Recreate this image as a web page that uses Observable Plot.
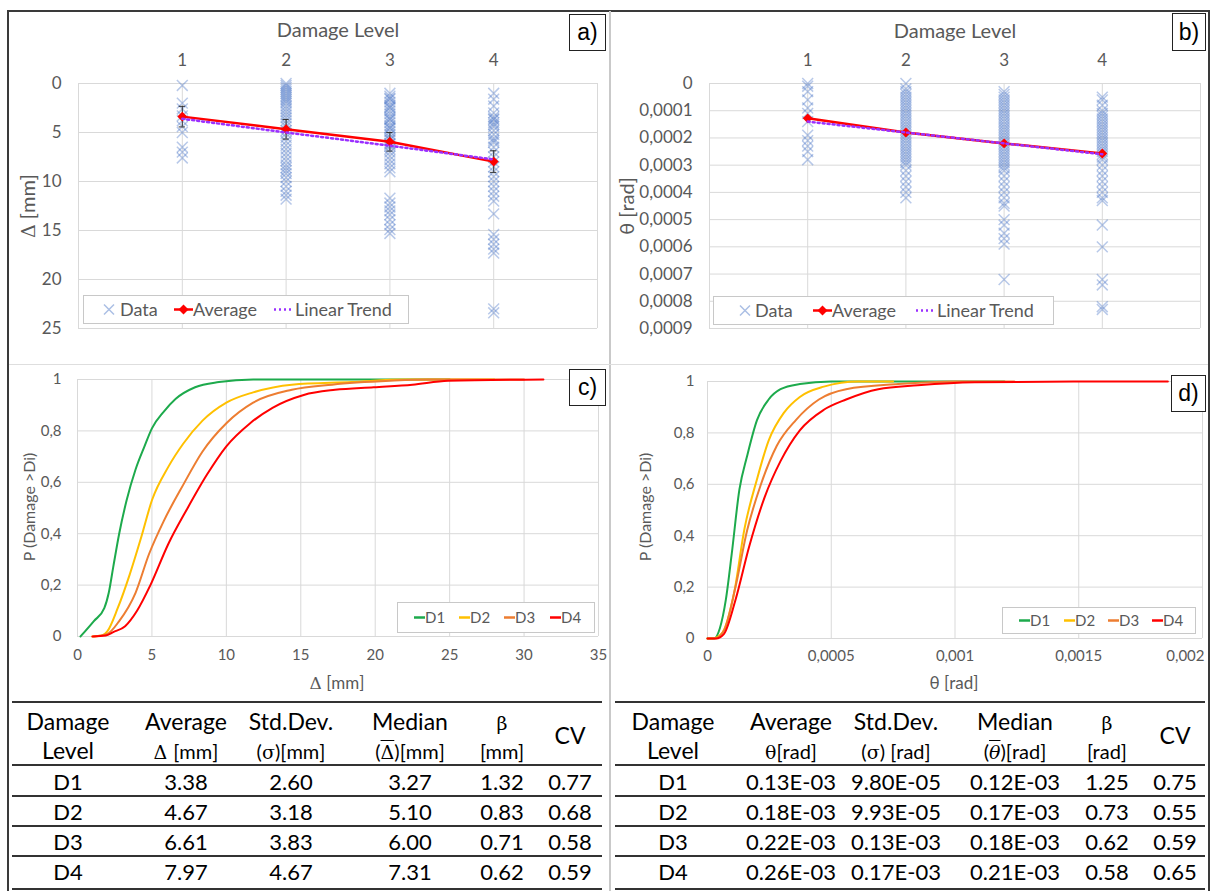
<!DOCTYPE html>
<html><head><meta charset="utf-8">
<script src="https://cdn.jsdelivr.net/npm/d3@7"></script>
<script src="https://cdn.jsdelivr.net/npm/@observablehq/plot@0.6"></script>
<style>
body{margin:0;background:#fff;}
#root{position:relative;width:1215px;height:891px;overflow:hidden;font-family:Lato,sans-serif;background:#fff;}
.abs{position:absolute;}
.lbl{position:absolute;box-sizing:border-box;border:1px solid #222;background:#fff;font-family:"Liberation Sans",Arial,sans-serif;font-size:23px;display:flex;align-items:center;justify-content:center;color:#000;}
.title{position:absolute;color:#595959;white-space:nowrap;transform:translate(-50%,-50%);}
.vtitle{position:absolute;color:#595959;white-space:nowrap;transform:translate(-50%,-50%) rotate(-90deg);}
.cell{position:absolute;transform:translate(-50%,-50%);white-space:nowrap;color:#000;font-size:21px;font-family:Lato,sans-serif;}
.hd{font-size:23px;}
.hl{position:absolute;background:#333;}
.leg{position:absolute;box-sizing:border-box;border:1px solid #c8c8c8;background:#fff;}
</style></head><body><div id="root"></div>
<script>
// ---------- DATA ----------
const levels = [1, 2, 3, 4];
const deltaTicks = [0, 5, 10, 15, 20, 25];
const thetaTicks = [0, 0.0001, 0.0002, 0.0003, 0.0004, 0.0005, 0.0006, 0.0007, 0.0008, 0.0009];

const deltaL1 = [0.2, 2.0, 2.6, 3.3, 3.8, 4.4, 5.0, 6.5, 7.0, 7.6];
const deltaL2 = [0.0, 0.2, 0.4, 0.6, 0.8, 1.0, 1.2, 1.4, 1.6, 1.8, 2.0, 2.3, 2.6, 2.9, 3.2, 3.5, 3.8, 4.1, 4.4, 4.8, 5.1, 5.5, 5.9, 6.3, 6.7, 7.1, 7.5, 7.9, 8.3, 8.6, 8.9, 9.2, 9.6, 10.0, 10.5, 11.0, 11.4, 11.8];
const deltaL3 = [1.0, 1.3, 1.5, 1.6, 1.9, 2.2, 2.4, 2.5, 2.8, 3.1, 3.4, 3.6, 3.7, 4.0, 4.3, 4.5, 4.6, 4.9, 5.2, 5.5, 5.7, 5.8, 6.1, 6.2, 6.4, 6.7, 7.0, 7.4, 7.8, 8.2, 8.6, 9.0, 11.7, 12.2, 12.6, 13.0, 13.4, 13.9, 14.4, 14.9, 15.3];
const deltaL4 = [1.0, 1.6, 2.3, 3.0, 3.4, 3.6, 3.7, 4.0, 4.2, 4.4, 4.8, 5.2, 5.6, 5.8, 6.0, 6.5, 7.0, 7.5, 8.0, 8.5, 9.0, 9.5, 10.0, 10.5, 11.0, 11.5, 12.0, 13.3, 15.4, 15.9, 16.4, 16.9, 17.3, 23.0, 23.4];
const deltaAvg = [3.38, 4.67, 5.95, 7.97];
const deltaErr = [1.05, 1.0, 0.95, 1.1];
const deltaTrend = [3.6, 5.0, 6.35, 7.75];

const thetaL1 = [0.0, 0.00001, 0.00003, 0.00006, 0.00009, 0.00011, 0.00014, 0.00019, 0.00021, 0.00023, 0.00025, 0.00028];
const thetaL2 = [0.0, 0.00002, 0.00003, 0.00004, 0.00005, 0.00006, 0.00007, 0.00008, 0.00009, 0.0001, 0.00011, 0.00012, 0.00013, 0.00014, 0.00015, 0.00016, 0.00017, 0.00018, 0.00019, 0.0002, 0.00021, 0.00022, 0.00023, 0.00024, 0.00025, 0.00026, 0.00027, 0.00028, 0.00029, 0.0003, 0.00032, 0.00034, 0.00036, 0.00038, 0.0004, 0.00042];
const thetaL3 = [0.00003, 0.00004, 0.00005, 0.00006, 0.00007, 0.00008, 0.00009, 0.0001, 0.00011, 0.00012, 0.00013, 0.00014, 0.00015, 0.00016, 0.00017, 0.00018, 0.00019, 0.0002, 0.00021, 0.00022, 0.00023, 0.00024, 0.00025, 0.00026, 0.00027, 0.00028, 0.00029, 0.0003, 0.00031, 0.00032, 0.00034, 0.00036, 0.00038, 0.0004, 0.00042, 0.00044, 0.00045, 0.0005, 0.00052, 0.00055, 0.00057, 0.00059, 0.00072];
const thetaL4 = [0.00005, 0.00006, 0.00008, 0.0001, 0.00011, 0.00012, 0.00013, 0.00014, 0.00015, 0.00016, 0.00017, 0.00018, 0.00019, 0.0002, 0.00021, 0.00022, 0.00023, 0.00024, 0.00025, 0.00026, 0.00027, 0.00028, 0.0003, 0.00032, 0.00034, 0.00036, 0.00038, 0.0004, 0.00042, 0.00043, 0.00052, 0.0006, 0.00072, 0.00074, 0.00082, 0.00083];
const thetaAvg = [0.000128, 0.00018, 0.00022, 0.000257];
const thetaTrend = [0.00014, 0.00018, 0.00022, 0.00026];

const seriesNames = ["D1", "D2", "D3", "D4"];
const seriesColors = ["#1DAA4C", "#FFC000", "#ED7D31", "#FF0000"];
const probTicks = [0, 0.2, 0.4, 0.6, 0.8, 1];
const deltaCdfTicks = [0, 5, 10, 15, 20, 25, 30, 35];
const thetaCdfTicks = [0, 0.0005, 0.001, 0.0015, 0.002];

const cD1x = [0.2, 1.1, 1.8, 2.1, 2.4, 2.8, 3.3, 3.9, 4.5, 5.0, 5.8, 6.6, 7.9, 9.5, 11.8, 25];
const cD1p = [0, 0.06, 0.11, 0.17, 0.27, 0.40, 0.53, 0.65, 0.74, 0.81, 0.875, 0.925, 0.97, 0.99, 1, 1];
const cD2x = [1.0, 1.65, 2.0, 2.7, 3.5, 4.3, 5.0, 6.1, 7.1, 8.4, 10, 11.8, 14.4, 18.4, 22, 28];
const cD2p = [0, 0.004, 0.02, 0.11, 0.24, 0.39, 0.53, 0.66, 0.75, 0.84, 0.91, 0.95, 0.98, 0.99, 1, 1];
const cD3x = [1.1, 2.0, 2.8, 3.9, 4.8, 5.8, 7.1, 8.4, 10, 11.8, 14.4, 17.1, 21, 23.6, 30];
const cD3p = [0, 0.01, 0.06, 0.17, 0.32, 0.45, 0.59, 0.72, 0.83, 0.91, 0.96, 0.98, 0.995, 1, 1];
const cD4x = [1.0, 1.9, 2.4, 3.2, 4.0, 4.9, 6.1, 7.4, 8.7, 10, 11.6, 13.1, 15.2, 17.3, 19.9, 22.5, 24.9, 31.3];
const cD4p = [0, 0.004, 0.017, 0.04, 0.10, 0.20, 0.36, 0.50, 0.63, 0.74, 0.83, 0.89, 0.94, 0.96, 0.97, 0.98, 0.995, 1];

const dD1x = [0, 0.000027, 0.00005, 0.000074, 0.000098, 0.000129, 0.00016, 0.0002, 0.000247, 0.000295, 0.000373, 0.0005, 0.0012];
const dD1p = [0, 0, 0.04, 0.15, 0.33, 0.58, 0.71, 0.85, 0.93, 0.97, 0.99, 1, 1];
const dD2x = [0, 0.000019, 0.000058, 0.000106, 0.00015, 0.0002, 0.000247, 0.00031, 0.000373, 0.00047, 0.00061, 0.00075];
const dD2p = [0, 0, 0.02, 0.17, 0.43, 0.62, 0.77, 0.88, 0.94, 0.98, 1, 1];
const dD3x = [0, 0.00003, 0.000066, 0.000113, 0.00016, 0.000216, 0.00028, 0.000357, 0.00045, 0.00056, 0.00077, 0.001, 0.00124];
const dD3p = [0, 0, 0.03, 0.2, 0.42, 0.6, 0.75, 0.85, 0.93, 0.97, 0.99, 1, 1];
const dD4x = [0, 0.000035, 0.000066, 0.000113, 0.000169, 0.000231, 0.000295, 0.000373, 0.00047, 0.00056, 0.00069, 0.00085, 0.00108, 0.00148, 0.00186];
const dD4p = [0, 0, 0.017, 0.15, 0.36, 0.55, 0.69, 0.81, 0.89, 0.93, 0.97, 0.985, 0.997, 1, 1];

const tableRowsLeft = [
  ["D1", "3.38", "2.60", "3.27", "1.32", "0.77"],
  ["D2", "4.67", "3.18", "5.10", "0.83", "0.68"],
  ["D3", "6.61", "3.83", "6.00", "0.71", "0.58"],
  ["D4", "7.97", "4.67", "7.31", "0.62", "0.59"]
];
const tableRowsRight = [
  ["D1", "0.13E-03", "9.80E-05", "0.12E-03", "1.25", "0.75"],
  ["D2", "0.18E-03", "9.93E-05", "0.17E-03", "0.73", "0.55"],
  ["D3", "0.22E-03", "0.13E-03", "0.18E-03", "0.62", "0.59"],
  ["D4", "0.26E-03", "0.17E-03", "0.21E-03", "0.58", "0.65"]
];

// ---------- helpers ----------
const root = document.getElementById("root");
function add(html){ root.insertAdjacentHTML("beforeend", html); }
function place(el, left, top){ el.style.position="absolute"; el.style.left=left+"px"; el.style.top=top+"px"; root.appendChild(el); }
const scatterRows = lists => lists.flatMap((vals,i)=>vals.map(v=>({level: levels[i], v})));
const comma = d => d === 0 ? "0" : String(d).replace(".", ",");
const baseStyle = {fontFamily:"Lato, sans-serif", color:"#595959", background:"transparent", overflow:"visible"};
const grid = "#D9D9D9";

// frames
add(`<div class="abs" style="left:7px;top:10px;width:1203px;height:890px;box-sizing:border-box;border:2px solid #3a3a3a;"></div>`);
add(`<div class="abs" style="left:609px;top:11px;width:2px;height:880px;background:#c9c9c9;"></div>`);
add(`<div class="abs" style="left:9px;top:364px;width:1199px;height:1px;background:#dedede;"></div>`);

// ---------- Panel a ----------
const avgA = levels.map((l,i)=>({level:l, v:deltaAvg[i], e:deltaErr[i], t:deltaTrend[i]}));
const chartA = Plot.plot({
  width: 603, height: 354, marginLeft: 71, marginRight: 13, marginTop: 73, marginBottom: 36,
  style: {...baseStyle, fontSize: "17px"},
  x: {domain: [0, 5], axis: null},
  y: {domain: [0, 25], reverse: true, axis: null},
  marks: [
    Plot.gridY(deltaTicks, {stroke: grid, strokeOpacity: 1}),
    Plot.gridX([0, ...levels, 5], {stroke: grid, strokeOpacity: 1}),
    Plot.axisX(levels, {anchor: "top", tickSize: 0, tickPadding: 18, label: null}),
    Plot.axisY(deltaTicks, {anchor: "left", tickSize: 0, tickPadding: 17, label: null}),
    Plot.dot(scatterRows([deltaL1, deltaL2, deltaL3, deltaL4]), {x: "level", y: "v", symbol: "times", r: 5, stroke: "#4472C4", strokeOpacity: 0.38, strokeWidth: 1.5}),
    Plot.line(avgA, {x: "level", y: "v", stroke: "#FF0000", strokeWidth: 2.5}),
    Plot.ruleX(avgA, {x: "level", y1: d => d.v - d.e, y2: d => d.v + d.e, stroke: "#333", strokeWidth: 1}),
    Plot.ruleY(avgA, {y: d => d.v - d.e, x1: d => d.level - 0.03, x2: d => d.level + 0.03, stroke: "#333", strokeWidth: 1}),
    Plot.ruleY(avgA, {y: d => d.v + d.e, x1: d => d.level - 0.03, x2: d => d.level + 0.03, stroke: "#333", strokeWidth: 1}),
    Plot.dot(avgA, {x: "level", y: "v", symbol: "diamond2", r: 3.5, fill: "#FF0000", stroke: "#FF0000"}),
    Plot.line(avgA, {x: "level", y: "t", stroke: "#9B30FF", strokeWidth: 2.5, strokeDasharray: "2,3"})
  ]
});
place(chartA, 7, 10);

// ---------- Panel b ----------
const avgB = levels.map((l,i)=>({level:l, v:thetaAvg[i], t:thetaTrend[i]}));
const chartB = Plot.plot({
  width: 600, height: 354, marginLeft: 99, marginRight: 10, marginTop: 73, marginBottom: 36,
  style: {...baseStyle, fontSize: "17px"},
  x: {domain: [0, 5], axis: null},
  y: {domain: [0, 0.0009], reverse: true, axis: null},
  marks: [
    Plot.gridY(thetaTicks, {stroke: grid, strokeOpacity: 1}),
    Plot.gridX([0, ...levels, 5], {stroke: grid, strokeOpacity: 1}),
    Plot.axisX(levels, {anchor: "top", tickSize: 0, tickPadding: 18, label: null}),
    Plot.axisY(thetaTicks, {anchor: "left", tickSize: 0, tickPadding: 17, label: null, tickFormat: d => d === 0 ? "0" : d.toFixed(4).replace(".", ",")}),
    Plot.dot(scatterRows([thetaL1, thetaL2, thetaL3, thetaL4]), {x: "level", y: "v", symbol: "times", r: 5, stroke: "#4472C4", strokeOpacity: 0.38, strokeWidth: 1.5}),
    Plot.line(avgB, {x: "level", y: "v", stroke: "#FF0000", strokeWidth: 2.5}),
    Plot.dot(avgB, {x: "level", y: "v", symbol: "diamond2", r: 3.5, fill: "#FF0000", stroke: "#FF0000"}),
    Plot.line(avgB, {x: "level", y: "t", stroke: "#9B30FF", strokeWidth: 2.5, strokeDasharray: "2,3"})
  ]
});
place(chartB, 610, 10);

// ---------- Panel c / d ----------
function cdfRows(xsList, psList){ return xsList.flatMap((xs,i)=>xs.map((x,j)=>({name: seriesNames[i], x, p: psList[i][j]}))); }
const color = {domain: seriesNames, range: seriesColors};

const chartC = Plot.plot({
  width: 603, height: 336, marginLeft: 70, marginRight: 12, marginTop: 15, marginBottom: 64,
  style: {...baseStyle, fontSize: "15px"},
  color,
  x: {domain: [0, 35], axis: null},
  y: {domain: [0, 1], axis: null},
  marks: [
    Plot.gridY(probTicks, {stroke: grid, strokeOpacity: 1}),
    Plot.gridX(deltaCdfTicks, {stroke: grid, strokeOpacity: 1}),
    Plot.axisX(deltaCdfTicks, {anchor: "bottom", tickSize: 0, tickPadding: 13, label: null}),
    Plot.axisY(probTicks, {anchor: "left", tickSize: 0, tickPadding: 16, label: null, tickFormat: comma}),
    Plot.line(cdfRows([cD1x, cD2x, cD3x, cD4x], [cD1p, cD2p, cD3p, cD4p]), {x: "x", y: "p", z: "name", stroke: "name", strokeWidth: 2, curve: "monotone-x"})
  ]
});
place(chartC, 7, 364);

const chartD = Plot.plot({
  width: 600, height: 336, marginLeft: 97, marginRight: 8, marginTop: 17, marginBottom: 62,
  style: {...baseStyle, fontSize: "15px"},
  color,
  x: {domain: [0, 0.002], axis: null},
  y: {domain: [0, 1], axis: null},
  marks: [
    Plot.gridY(probTicks, {stroke: grid, strokeOpacity: 1}),
    Plot.gridX(thetaCdfTicks, {stroke: grid, strokeOpacity: 1}),
    Plot.axisX(thetaCdfTicks.slice(0, -1), {anchor: "bottom", tickSize: 0, tickPadding: 12, label: null, tickFormat: comma}),
    Plot.axisX(thetaCdfTicks.slice(-1), {anchor: "bottom", tickSize: 0, tickPadding: 12, label: null, tickFormat: comma, textAnchor: "end", dx: 2}),
    Plot.axisY(probTicks, {anchor: "left", tickSize: 0, tickPadding: 13, label: null, tickFormat: comma}),
    Plot.line(cdfRows([dD1x, dD2x, dD3x, dD4x], [dD1p, dD2p, dD3p, dD4p]), {x: "x", y: "p", z: "name", stroke: "name", strokeWidth: 2, curve: "monotone-x"})
  ]
});
place(chartD, 610, 364);

// ---------- titles ----------
add(`<div class="title" style="left:338px;top:29px;font-size:20px;">Damage Level</div>`);
add(`<div class="title" style="left:955px;top:30px;font-size:20px;">Damage Level</div>`);
add(`<div class="vtitle" style="left:27px;top:206px;font-size:20px;"><span style="font-family:'DejaVu Serif',serif;font-size:19px;">Δ</span> [mm]</div>`);
add(`<div class="vtitle" style="left:626px;top:206px;font-size:20px;">θ [rad]</div>`);
add(`<div class="title" style="left:337px;top:682px;font-size:17px;"><span style="font-family:'DejaVu Serif',serif;">Δ</span> [mm]</div>`);
add(`<div class="title" style="left:954px;top:682px;font-size:17px;">θ [rad]</div>`);
add(`<div class="vtitle" style="left:28px;top:507px;font-size:16px;">P (Damage &gt;Di)</div>`);
add(`<div class="vtitle" style="left:644px;top:507px;font-size:16px;">P (Damage &gt;Di)</div>`);

// panel labels
add(`<div class="lbl" style="left:569px;top:14px;width:37px;height:37px;">a)</div>`);
add(`<div class="lbl" style="left:1172px;top:13px;width:34px;height:38px;">b)</div>`);
add(`<div class="lbl" style="left:569px;top:369px;width:37px;height:37px;">c)</div>`);
add(`<div class="lbl" style="left:1171px;top:375px;width:35px;height:37px;">d)</div>`);

// ---------- legends ----------
function legendScatter(left, top, w, h, xMark, xData, lineA, xAvg, lineT, xTrend){
  const cy = h/2;
  add(`<div class="leg" style="left:${left}px;top:${top}px;width:${w}px;height:${h}px;">
  <svg width="${w}" height="${h}" style="position:absolute;left:-1px;top:-1px;overflow:visible">
    <path d="M${xMark-5},${cy-5}L${xMark+5},${cy+5}M${xMark-5},${cy+5}L${xMark+5},${cy-5}" stroke="#4472C4" stroke-opacity="0.45" stroke-width="1.5"/>
    <text x="${xData}" y="${cy}" dy="0.35em" fill="#595959" font-size="18" font-family="Lato">Data</text>
    <line x1="${lineA[0]}" x2="${lineA[1]}" y1="${cy}" y2="${cy}" stroke="#FF0000" stroke-width="2.5"/>
    <path d="M${(lineA[0]+lineA[1])/2},${cy-5}l5,5l-5,5l-5,-5z" fill="#FF0000"/>
    <text x="${xAvg}" y="${cy}" dy="0.35em" fill="#595959" font-size="18" font-family="Lato">Average</text>
    <line x1="${lineT[0]}" x2="${lineT[1]}" y1="${cy}" y2="${cy}" stroke="#9B30FF" stroke-width="2.5" stroke-dasharray="2,3"/>
    <text x="${xTrend}" y="${cy}" dy="0.35em" fill="#595959" font-size="18" font-family="Lato">Linear Trend</text>
  </svg></div>`);
}
legendScatter(83, 295, 326, 29, 26, 37, [91, 110], 110, [191, 208], 212);
legendScatter(713, 296, 341, 29, 32, 42, [100, 119], 119, [203, 220], 224);

function legendCdf(left, top, w, h, starts){
  const cy = h/2;
  let s = "";
  seriesNames.forEach((n,i)=>{
    s += `<line x1="${starts[i]}" x2="${starts[i]+11}" y1="${cy}" y2="${cy}" stroke="${seriesColors[i]}" stroke-width="2.5"/>`;
    s += `<text x="${starts[i]+11}" y="${cy}" dy="0.35em" fill="#595959" font-size="15" font-family="Lato">${n}</text>`;
  });
  add(`<div class="leg" style="left:${left}px;top:${top}px;width:${w}px;height:${h}px;"><svg width="${w}" height="${h}" style="position:absolute;left:-1px;top:-1px;overflow:visible">${s}</svg></div>`);
}
legendCdf(397, 602, 198, 31, [17, 62, 107, 153]);
legendCdf(1002, 607, 194, 27, [17, 62, 106, 150]);

// ---------- tables ----------
function table(x0, x1, centers, header1, header2, rows){
  const lines = [[702,2],[765,2],[796,1.5],[826,1.5],[856,1.5],[889,2]];
  lines.forEach(([y,t])=>add(`<div class="hl" style="left:${x0}px;top:${y-t/2}px;width:${x1-x0}px;height:${t}px;"></div>`));
  header1.forEach((t,i)=>{ if(t) add(`<div class="cell hd" style="left:${centers[i]}px;top:721px;">${t}</div>`); });
  header2.forEach((t,i)=>{ if(t) add(`<div class="cell hd" style="left:${centers[i]}px;top:750px;">${t}</div>`); });
  add(`<div class="cell hd" style="left:${centers[5]}px;top:735px;">CV</div>`);
  rows.forEach((r,ri)=>r.forEach((t,ci)=>add(`<div class="cell" style="left:${centers[ci]}px;top:${781+ri*30}px;font-size:22px;">${t}</div>`)));
}
const ser = s => `<span style="font-family:'DejaVu Serif',serif;font-size:19px;">${s}</span>`;
const sm = s => `<span style="font-size:20px;">${s}</span>`;
table(12, 602, [68, 186, 291, 410, 502, 570],
  ["Damage", "Average", "Std.Dev.", "Median", ser("β"), ""],
  ["Level", ser("Δ") + " " + sm("[mm]"), sm("(") + ser("σ") + sm(")[mm]"), sm("(") + `<span style="font-family:'DejaVu Serif',serif;font-size:19px;text-decoration:overline;">Δ</span>` + sm(")[mm]"), sm("[mm]"), ""],
  tableRowsLeft);
table(615, 1205, [673, 791, 896, 1015, 1107, 1175],
  ["Damage", "Average", "Std.Dev.", "Median", ser("β"), ""],
  ["Level", ser("θ") + sm("[rad]"), sm("(") + ser("σ") + sm(") [rad]"), sm("(") + `<span style="font-family:'DejaVu Serif',serif;font-style:italic;font-size:19px;text-decoration:overline;">θ</span>` + sm(")[rad]"), sm("[rad]"), ""],
  tableRowsRight);
</script></body></html>
